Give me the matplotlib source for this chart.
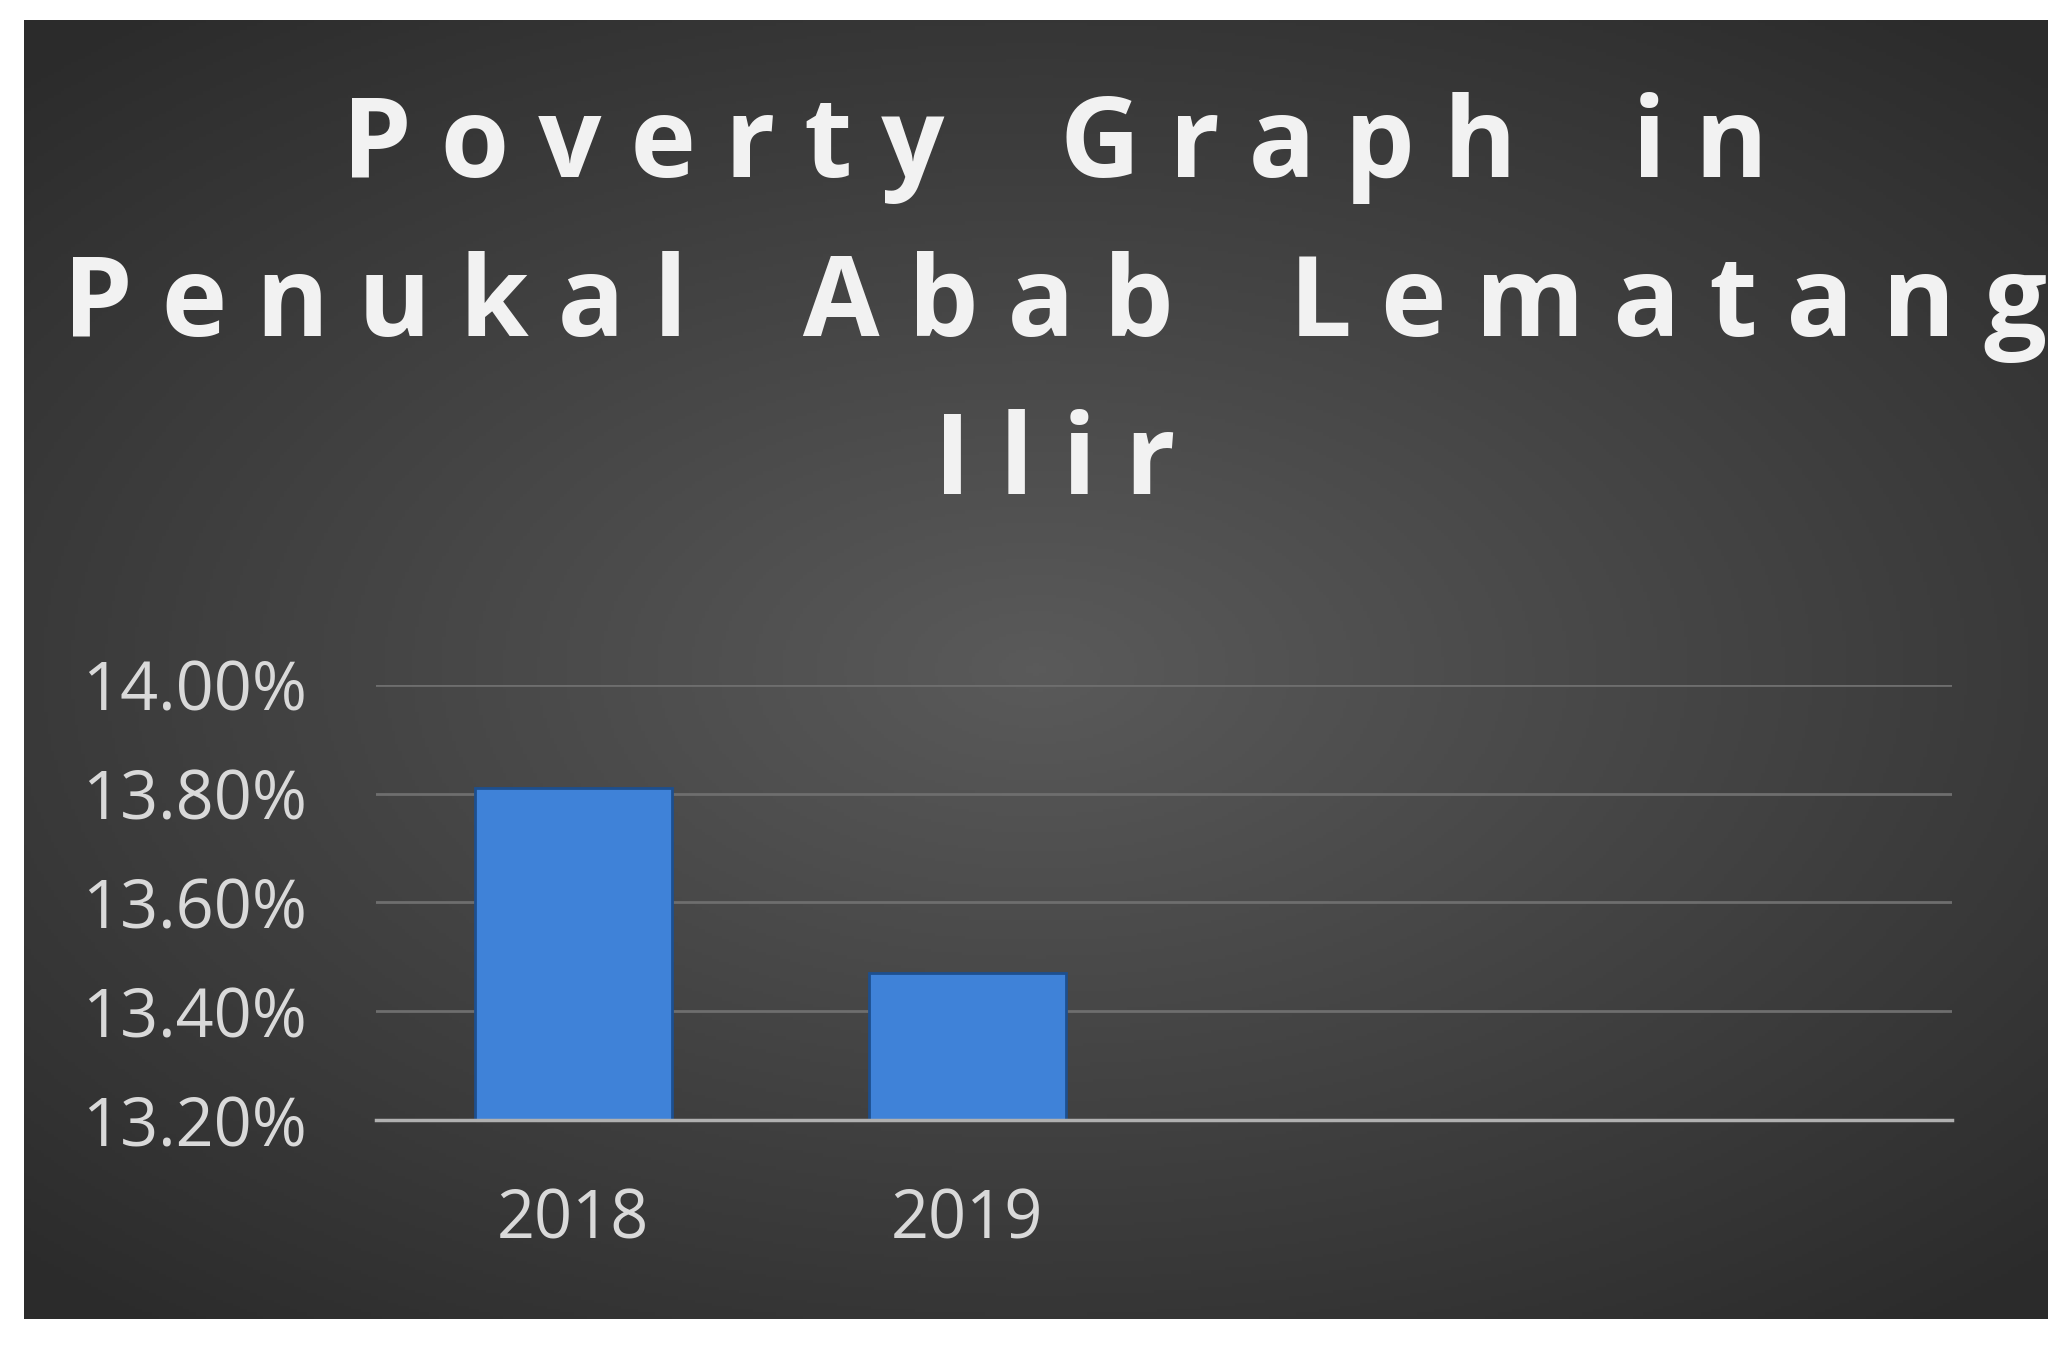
import numpy as np
import matplotlib
matplotlib.use("Agg")
import matplotlib.pyplot as plt

categories = ["2018", "2019", "", ""]
values = [13.81, 13.47, np.nan, np.nan]
yticks = [13.2, 13.4, 13.6, 13.8, 14.0]
title = "Poverty Graph in\nPenukal Abab Lematang\nIlir"

plt.rcParams['font.family'] = ['Open Sans', 'DejaVu Sans']
fig = plt.figure(figsize=(20.68, 13.45), dpi=100)
fig.patch.set_facecolor("white")

# dark panel with radial gradient
bg = fig.add_axes([0.0115, 0.0196, 0.9785, 0.9654])
yy, xx = np.mgrid[-1:1:400j, -1:1:600j]
r = np.sqrt((xx * 0.9) ** 2 + (yy * 1.0) ** 2)
bg.imshow(np.clip(r, 0, 1.3), cmap=matplotlib.colors.LinearSegmentedColormap.from_list(
    "g", ["#5a5a5a", "#2b2b2b"]), aspect="auto", extent=[0, 1, 0, 1])
bg.axis("off")

# title, slightly letter-spaced
fig.text(0.51, 0.772, "\n".join(" ".join(line).replace("   ", "    ") for line in title.split("\n")),
         ha="center", va="center", fontsize=80, fontweight="bold",
         color="#f2f2f2", linespacing=1.55)

ax = fig.add_axes([0.182, 0.167, 0.762, 0.324])
ax.patch.set_alpha(0)
x = np.arange(len(categories))
ax.bar(x, np.nan_to_num(values) - 13.2, bottom=13.2, width=0.5, color="#3f82d8",
       edgecolor="#1d4f8f", linewidth=2)
ax.set_xlim(-0.5, len(categories) - 0.5)
ax.set_ylim(13.2, 14.0)
ax.set_yticks(yticks)
ax.set_yticklabels([f"{v:.2f}%" for v in yticks])
ax.set_xticks(x[:2])
ax.set_xticklabels(categories[:2])
ax.tick_params(length=0, labelsize=48, colors="#d9d9d9")
ax.tick_params(axis="y", pad=50)
ax.tick_params(axis="x", pad=48)
ax.grid(axis="y", color="#6e6e6e", linewidth=2)
ax.set_axisbelow(True)
for s in ["top", "right", "left"]:
    ax.spines[s].set_visible(False)
ax.spines["bottom"].set_color("#b0b0b0")
ax.spines["bottom"].set_linewidth(2.5)

fig.savefig("out.png", dpi=100)
